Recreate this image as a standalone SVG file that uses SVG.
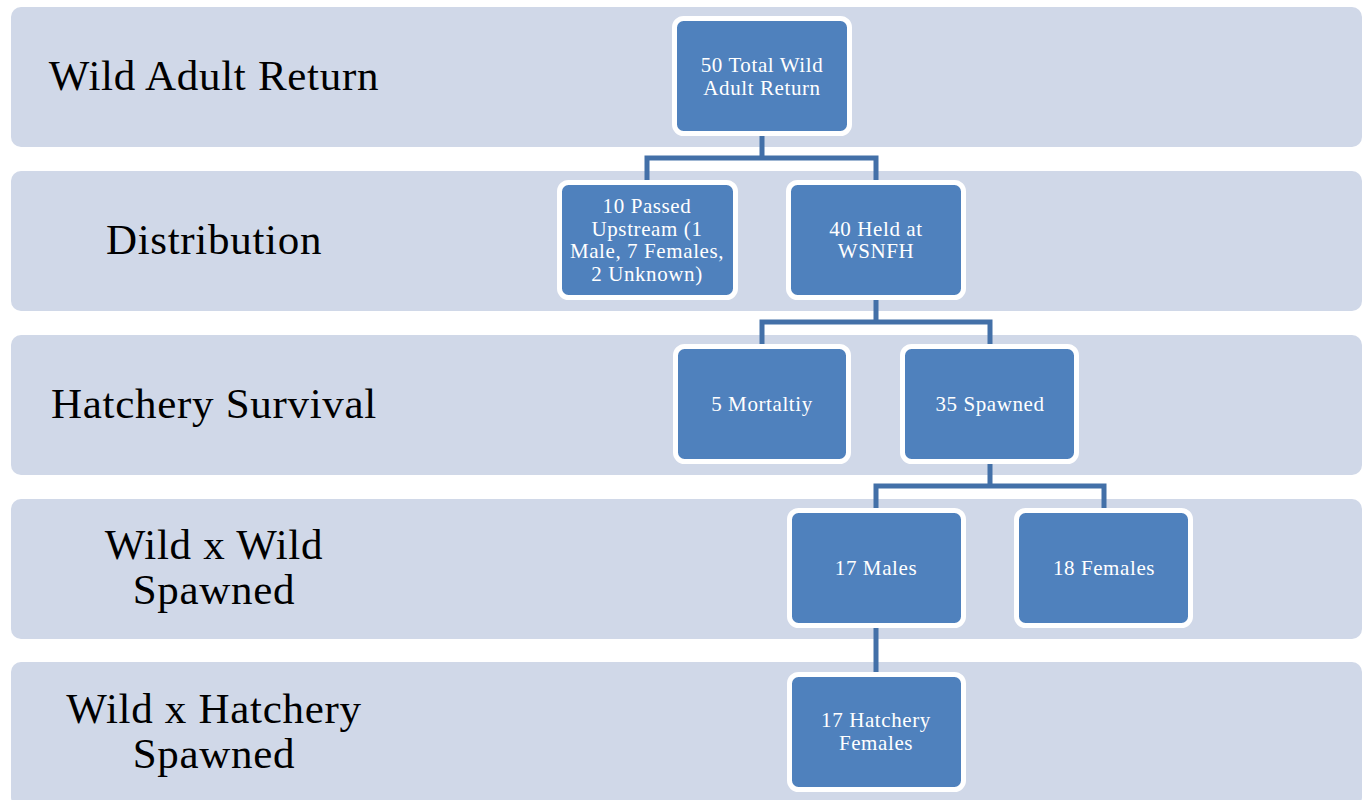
<svg xmlns="http://www.w3.org/2000/svg" width="1369" height="800" viewBox="0 0 1369 800">
<style>
.band{fill:#d0d8e8;}
.lbl{font-family:"Liberation Serif",serif;font-size:43px;letter-spacing:0.7px;fill:#000;text-anchor:middle;}
.node{fill:#4f81bd;stroke:#fff;stroke-width:5;}
.nt{font-family:"Liberation Serif",serif;font-size:21px;letter-spacing:0.6px;fill:#fff;text-anchor:middle;}
.conn{fill:none;stroke:#4370a8;stroke-width:5;stroke-linejoin:miter;}
</style>
<rect x="0" y="0" width="1369" height="800" fill="#fff"/>
<g id="bands">
<rect class="band" x="11" y="7" width="1351" height="140" rx="10"/>
<rect class="band" x="11" y="171" width="1351" height="140" rx="10"/>
<rect class="band" x="11" y="335" width="1351" height="140" rx="10"/>
<rect class="band" x="11" y="499" width="1351" height="140" rx="10"/>
<rect class="band" x="11" y="662" width="1351" height="145" rx="10"/>
</g>
<g id="labels">
<text class="lbl" x="214" y="90">Wild Adult Return</text>
<text class="lbl" x="214" y="254">Distribution</text>
<text class="lbl" x="214" y="418">Hatchery Survival</text>
<text class="lbl" x="214" y="559">Wild x Wild</text>
<text class="lbl" x="214" y="604">Spawned</text>
<text class="lbl" x="214" y="723">Wild x Hatchery</text>
<text class="lbl" x="214" y="768">Spawned</text>
</g>
<g id="connectors">
<path class="conn" d="M762 136 V158 M647 180 V158 H876 V180"/>
<path class="conn" d="M876 300 V322 M762 344 V322 H990 V344"/>
<path class="conn" d="M990 464 V486 M876 508 V486 H1104 V508"/>
<path class="conn" d="M876 628 V672"/>
</g>
<g id="n1">
<rect class="node" x="674.5" y="18.5" width="175" height="115" rx="9"/>
<text class="nt" x="762" y="72">50 Total Wild</text>
<text class="nt" x="762" y="95">Adult Return</text>
</g>
<g id="n2">
<rect class="node" x="559.5" y="182.5" width="176" height="115" rx="9"/>
<text class="nt" x="647" y="213">10 Passed</text>
<text class="nt" x="647" y="236">Upstream (1</text>
<text class="nt" x="647" y="258">Male, 7 Females,</text>
<text class="nt" x="647" y="281">2 Unknown)</text>
</g>
<g id="n3">
<rect class="node" x="788.5" y="182.5" width="175" height="115" rx="9"/>
<text class="nt" x="876" y="236">40 Held at</text>
<text class="nt" x="876" y="258">WSNFH</text>
</g>
<g id="n4">
<rect class="node" x="675.5" y="346.5" width="173" height="115" rx="9"/>
<text class="nt" x="762" y="411">5 Mortaltiy</text>
</g>
<g id="n5">
<rect class="node" x="902.5" y="346.5" width="174" height="115" rx="9"/>
<text class="nt" x="990" y="411">35 Spawned</text>
</g>
<g id="n6">
<rect class="node" x="789.5" y="510.5" width="174" height="115" rx="9"/>
<text class="nt" x="876" y="575">17 Males</text>
</g>
<g id="n7">
<rect class="node" x="1016.5" y="510.5" width="174" height="115" rx="9"/>
<text class="nt" x="1104" y="575">18 Females</text>
</g>
<g id="n8">
<rect class="node" x="789.5" y="674.5" width="174" height="115" rx="9"/>
<text class="nt" x="876" y="727">17 Hatchery</text>
<text class="nt" x="876" y="750">Females</text>
</g>
</svg>
